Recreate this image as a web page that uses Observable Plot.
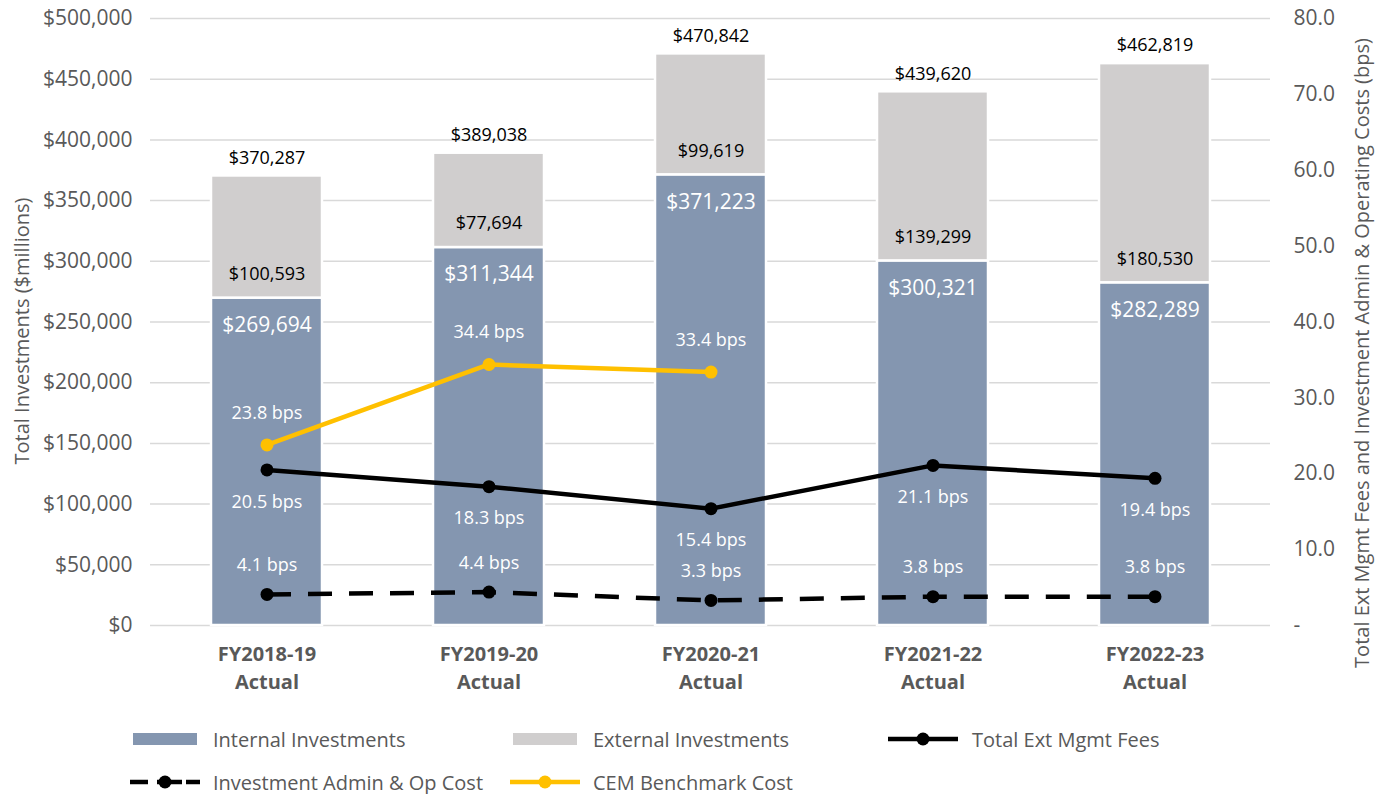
<!DOCTYPE html>
<html><head><meta charset="utf-8">
<script src="https://cdn.jsdelivr.net/npm/d3@7"></script>
<script src="https://cdn.jsdelivr.net/npm/@observablehq/plot@0.6"></script>
<style>
body{margin:0;background:#fff;font-family:"Open Sans",sans-serif}
#wrap{position:relative;width:1385px;height:794px;overflow:hidden}
#chart{position:absolute;left:0;top:0}
.leg{position:absolute;display:flex;align-items:center;font-size:20px;color:#595959;white-space:nowrap;height:30px}
.leg svg{display:block}
</style></head><body><div id="wrap"><div id="chart"></div></div>
<script>
// ---- data ----
const categories = ["FY2018-19 Actual", "FY2019-20 Actual", "FY2020-21 Actual", "FY2021-22 Actual", "FY2022-23 Actual"];
const internalInvestments = [269694, 311344, 371223, 300321, 282289];
const externalInvestments = [100593, 77694, 99619, 139299, 180530];
const totalInvestments = [370287, 389038, 470842, 439620, 462819];
const totalExtMgmtFees = [20.5, 18.3, 15.4, 21.1, 19.4];
const adminOpCost = [4.1, 4.4, 3.3, 3.8, 3.8];
const cemBenchmark = [23.8, 34.4, 33.4, null, null];
const leftTicks = [0, 50000, 100000, 150000, 200000, 250000, 300000, 350000, 400000, 450000, 500000];
const rightTicks = [0, 10, 20, 30, 40, 50, 60, 70, 80];
const leftTitle = "Total Investments ($millions)";
const rightTitle = "Total Ext Mgmt Fees and Investment Admin & Operating Costs (bps)";

const C_INT = "#8496B0", C_EXT = "#D0CECE", C_CEM = "#FFC000", C_TXT = "#595959";
const LEFT_MAX = 500000, RIGHT_MAX = 80, K = LEFT_MAX / RIGHT_MAX;

const rows = categories.map((c, i) => ({
  cat: c, internal: internalInvestments[i], external: externalInvestments[i],
  total: totalInvestments[i], fees: totalExtMgmtFees[i], admin: adminOpCost[i], cem: cemBenchmark[i]
}));
const cemRows = rows.filter(d => d.cem != null);
const money = d => "$" + d3.format(",")(d);
const bps = v => v.toFixed(1) + " bps";

const chart = Plot.plot({
  width: 1385, height: 700,
  marginTop: 18, marginBottom: 75, marginLeft: 150, marginRight: 115,
  style: {fontFamily: "'Open Sans', sans-serif", color: C_TXT, background: "white", fontSize: "20px"},
  x: {domain: categories, paddingInner: 0.5, paddingOuter: 0.2725, label: null},
  y: {domain: [0, LEFT_MAX], label: null},
  marks: [
    Plot.gridY(leftTicks, {stroke: "#d9d9d9", strokeOpacity: 1, strokeWidth: 1.5}),
    Plot.barY(rows, {x: "cat", y1: 0, y2: "internal", fill: C_INT, stroke: "white", strokeWidth: 2.5}),
    Plot.barY(rows, {x: "cat", y1: "internal", y2: "total", fill: C_EXT, stroke: "white", strokeWidth: 2.5}),
    Plot.axisY(leftTicks, {anchor: "left", tickSize: 0, tickPadding: 18, tickFormat: money, fontSize: 21, label: null}),
    Plot.axisY(rightTicks.map(v => v * K), {anchor: "right", tickSize: 0, tickPadding: 23,
      tickFormat: d => d === 0 ? "-" : (d / K).toFixed(1), fontSize: 21, label: null}),
    Plot.axisX({tickSize: 0, tickPadding: 16, fontSize: 20, fontWeight: "bold", lineHeight: 1.4,
      tickFormat: d => d.replace(" ", "\n"), label: null}),
    Plot.text([leftTitle], {frameAnchor: "left", textAnchor: "middle", rotate: -90, dx: -128, dy: 9, fontSize: 20, fill: C_TXT}),
    Plot.text([rightTitle], {frameAnchor: "right", textAnchor: "middle", rotate: -90, dx: 92, dy: 31, fontSize: 20, fill: C_TXT}),
    // bar labels
    Plot.text(rows, {x: "cat", y: "total", text: d => money(d.total), dy: -18, fontSize: 18, fill: "black"}),
    Plot.text(rows, {x: "cat", y: "internal", text: d => money(d.external), dy: -24, fontSize: 18, fill: "black"}),
    Plot.text(rows, {x: "cat", y: "internal", text: d => money(d.internal), dy: 27, fontSize: 21, fill: "white"}),
    // lines
    Plot.line(rows, {x: "cat", y: d => d.admin * K, stroke: "black", strokeWidth: 4.5, strokeDasharray: "24,17", strokeLinecap: "butt"}),
    Plot.dot(rows, {x: "cat", y: d => d.admin * K, r: 6.5, fill: "black"}),
    Plot.line(rows, {x: "cat", y: d => d.fees * K, stroke: "black", strokeWidth: 4.5}),
    Plot.dot(rows, {x: "cat", y: d => d.fees * K, r: 6.5, fill: "black"}),
    Plot.line(cemRows, {x: "cat", y: d => d.cem * K, stroke: C_CEM, strokeWidth: 4.5}),
    Plot.dot(cemRows, {x: "cat", y: d => d.cem * K, r: 6.5, fill: C_CEM}),
    // bps labels
    Plot.text(cemRows, {x: "cat", y: d => d.cem * K, text: d => bps(d.cem), dy: -32, fontSize: 18, fill: "white"}),
    Plot.text(rows, {x: "cat", y: d => d.fees * K, text: d => bps(d.fees), dy: 32, fontSize: 18, fill: "white"}),
    Plot.text(rows, {x: "cat", y: d => d.admin * K, text: d => bps(d.admin), dy: -29, fontSize: 18, fill: "white"})
  ]
});
document.getElementById("chart").appendChild(chart);

// ---- legend ----
const legendItems = [
  {label: "Internal Investments", kind: "rect", color: C_INT, x: 133, y: 739, tx: 213},
  {label: "External Investments", kind: "rect", color: C_EXT, x: 513, y: 739, tx: 593},
  {label: "Total Ext Mgmt Fees", kind: "line", color: "black", x: 888, y: 739, tx: 972},
  {label: "Investment Admin & Op Cost", kind: "dash", color: "black", x: 130, y: 782, tx: 213},
  {label: "CEM Benchmark Cost", kind: "line", color: C_CEM, x: 510, y: 782, tx: 593}
];
const wrap = document.getElementById("wrap");
for (const it of legendItems) {
  const sw = document.createElementNS("http://www.w3.org/2000/svg", "svg");
  sw.setAttribute("width", 72); sw.setAttribute("height", 20);
  sw.style.position = "absolute"; sw.style.left = it.x + "px"; sw.style.top = (it.y - 10) + "px";
  if (it.kind === "rect") {
    sw.innerHTML = `<rect x="0" y="4" width="64" height="12" fill="${it.color}"/>`;
  } else if (it.kind === "line") {
    sw.innerHTML = `<line x1="0" x2="70" y1="10" y2="10" stroke="${it.color}" stroke-width="4.5"/><circle cx="35" cy="10" r="6.5" fill="${it.color}"/>`;
  } else {
    sw.innerHTML = `<line x1="0" x2="18" y1="10" y2="10" stroke="${it.color}" stroke-width="4.5"/><line x1="27" x2="52" y1="10" y2="10" stroke="${it.color}" stroke-width="4.5"/><line x1="56" x2="70" y1="10" y2="10" stroke="${it.color}" stroke-width="4.5"/><circle cx="35" cy="10" r="6.5" fill="${it.color}"/>`;
  }
  wrap.appendChild(sw);
  const t = document.createElement("div");
  t.className = "leg"; t.textContent = it.label;
  t.style.left = it.tx + "px"; t.style.top = (it.y - 15) + "px";
  wrap.appendChild(t);
}
</script>
</body></html>
